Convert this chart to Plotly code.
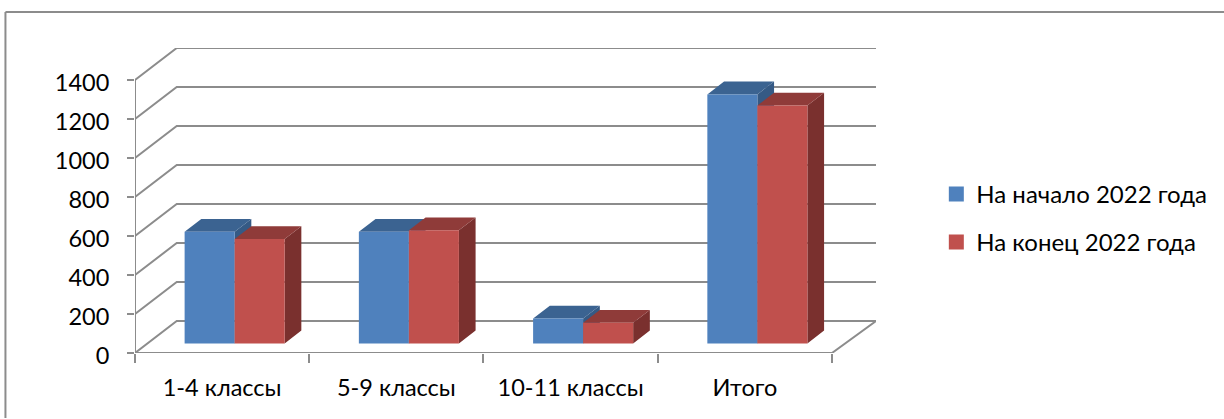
import plotly.graph_objects as go

categories = ["1-4 классы", "5-9 классы", "10-11 классы", "Итого"]
series_names = ["На начало 2022 года", "На конец 2022 года"]
start_values = [572, 572, 128, 1277]
end_values = [535, 580, 106, 1220]
y_ticks = [0, 200, 400, 600, 800, 1000, 1200, 1400]

front_colors = ["#4F81BD", "#C0504D"]
top_colors = ["#3B6391", "#8F3B39"]
side_colors = ["#355A85", "#7A302E"]
grid_color = "#8C8C8C"

W, H = 1224, 419
L, R, T, B = 135.0, 875.7, 48.3, 353.0
CAT_PX = (831.7 - 135.0) / 4
PX_PER_UNIT = 39.0 / 200
DEPTH_X = 41.7 / CAT_PX
DEPTH_Y = 32.0 / PX_PER_UNIT
BAR_W = 50.0 / CAT_PX
D0, D1 = 0.30, 0.70
x_max = (R - L) / CAT_PX
y_max = 1400 + DEPTH_Y


def line_xy(points):
    xs, ys = [], []
    for seg in points:
        xs += [p[0] for p in seg] + [None]
        ys += [p[1] for p in seg] + [None]
    return xs, ys


fig = go.Figure()

segments = [[(0, v), (DEPTH_X, v + DEPTH_Y), (x_max, v + DEPTH_Y)] for v in y_ticks]
segments.append([(0, 0), (4, 0), (x_max, DEPTH_Y)])
segments.append([(0, 0), (0, 1400)])
gx, gy = line_xy(segments)
fig.add_trace(go.Scatter(x=gx, y=gy, mode="lines", showlegend=False, hoverinfo="skip",
                         line=dict(color=grid_color, width=2)))


def project(x, v, d):
    return x + d * DEPTH_X, v + d * DEPTH_Y


for s, values in enumerate([start_values, end_values]):
    fx, fy, tx, ty, sx, sy = [], [], [], [], [], []
    for c, v in enumerate(values):
        x0 = c + 0.5 - BAR_W + s * BAR_W
        x1 = x0 + BAR_W
        a = project(x0, 0, D0); b = project(x1, 0, D0)
        cc = project(x1, v, D0); d = project(x0, v, D0)
        fx += [a[0], b[0], cc[0], d[0], a[0], None]
        fy += [a[1], b[1], cc[1], d[1], a[1], None]
        e = project(x1, v, D1); f = project(x0, v, D1)
        tx += [d[0], cc[0], e[0], f[0], d[0], None]
        ty += [d[1], cc[1], e[1], f[1], d[1], None]
        g = project(x1, 0, D1)
        sx += [b[0], g[0], e[0], cc[0], b[0], None]
        sy += [b[1], g[1], e[1], cc[1], b[1], None]
    for px, py, col in [(sx, sy, side_colors[s]), (tx, ty, top_colors[s]), (fx, fy, front_colors[s])]:
        fig.add_trace(go.Scatter(x=px, y=py, mode="lines", fill="toself", fillcolor=col,
                                 line=dict(width=0, color=col), showlegend=False, hoverinfo="skip"))

for s, name in enumerate(series_names):
    fig.add_trace(go.Scatter(x=[None], y=[None], mode="markers", name=name, legendgroup=name,
                             marker=dict(symbol="square", size=15, color=front_colors[s])))

font = "Lato, 'Noto Sans'"
fig.update_xaxes(range=[0, x_max], tickvals=[i + 0.5 for i in range(4)], ticktext=categories,
                 ticks="", showgrid=False, zeroline=False, showline=False, ticklabelstandoff=18,
                 tickfont=dict(family=font, size=23.5, color="#000000"),
                 minor=dict(tickvals=[0, 1, 2, 3, 4], ticks="outside", ticklen=9, tickwidth=2,
                            tickcolor=grid_color, showgrid=False))
fig.update_yaxes(range=[0, y_max], tickvals=y_ticks, ticks="outside", ticklen=7, tickwidth=2,
                 tickcolor=grid_color, showgrid=False, zeroline=False, showline=False,
                 ticklabelstandoff=13, ticklabelshift=3,
                 tickfont=dict(family=font, size=23.5, color="#000000"))

fig.add_shape(type="line", xref="paper", yref="paper",
              x0=(5.5 - L) / (R - L), x1=(W - L) / (R - L),
              y0=(B - 12.3) / (B - T), y1=(B - 12.3) / (B - T),
              line=dict(color="#8C8C8C", width=2))
fig.add_shape(type="line", xref="paper", yref="paper",
              x0=(5.5 - L) / (R - L), x1=(5.5 - L) / (R - L),
              y0=(B - 12.3) / (B - T), y1=(B - 418) / (B - T),
              line=dict(color="#8C8C8C", width=2))

fig.update_layout(width=W, height=H, autosize=False,
                  margin=dict(l=L, r=W - R, t=T, b=H - B, pad=0),
                  paper_bgcolor="white", plot_bgcolor="white",
                  legend=dict(x=(936 - L) / (R - L), y=(B - 172) / (B - T), xanchor="left", yanchor="top",
                              tracegroupgap=14, font=dict(family=font, size=24, color="#000000"),
                              bgcolor="rgba(0,0,0,0)", itemclick=False, itemdoubleclick=False))

fig.write_html("out.html", config={"displayModeBar": False},
               post_script="document.body.style.margin='0';document.body.style.overflow='hidden';")
